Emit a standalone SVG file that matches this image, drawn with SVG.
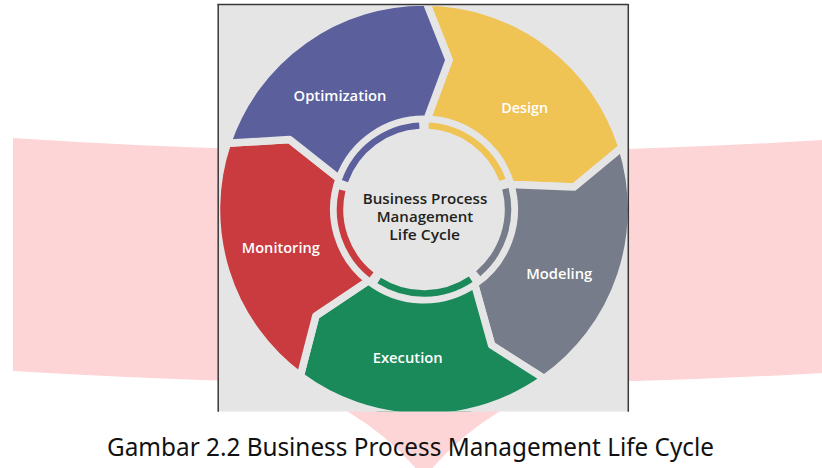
<svg xmlns="http://www.w3.org/2000/svg" xmlns:xlink="http://www.w3.org/1999/xlink" width="822" height="468" viewBox="0 0 822 468">
  <style>
    .seg { stroke: #e5e5e5; stroke-width: 7.5; stroke-linejoin: round; }
    .lbl { font-family: "Open Sans", "Noto Sans", sans-serif; font-weight: 600; font-size: 15px; fill: #ffffff; text-anchor: middle; }
    .ctr { font-family: "Open Sans", "Noto Sans", sans-serif; font-weight: 600; font-size: 14.5px; fill: #231f20; text-anchor: middle; }
    .ring { fill: none; stroke-width: 6.5; }
    .cap { font-family: "Noto Sans", "Open Sans", sans-serif; font-size: 25px; fill: #111111; }
    .frame { stroke: #383838; stroke-width: 1.5; }
  </style>
  <defs>
    <path id="seg" d="M2.17,-207.49 A207.5,207.5 0 0 1 198.00,-62.05 L149.93,-22.41 L86.71,-25.03 A90.25,90.25 0 0 0 2.99,-90.20 L25.02,-149.52 Z"/>
    <clipPath id="boxclip">
      <rect x="219" y="5" width="409" height="406.5"/>
    </clipPath>
  </defs>

  <rect width="822" height="468" fill="#ffffff"/>

  <g id="pink-banner" fill="#fdd5d7">
    <path d="M13,138 Q420,165 822,140 L822,373 Q420,396 13,371 Z"/>
    <path d="M330,395 L348,411.7 Q392,438 424,478 Q456,438 499,411.7 L515,395 Z"/>
  </g>

  <g id="figure">
    <rect x="218" y="4" width="410" height="407.5" fill="#e5e5e5"/>
    <g clip-path="url(#boxclip)">
      <g id="design"><use xlink:href="#seg" class="seg" fill="#efc354" transform="translate(424,209.5) rotate(0)"/></g>
      <g id="modeling"><use xlink:href="#seg" class="seg" fill="#767c89" transform="translate(424,209.5) rotate(72)"/></g>
      <g id="execution"><use xlink:href="#seg" class="seg" fill="#1b8a5a" transform="translate(424,209.5) rotate(144)"/></g>
      <g id="monitoring"><use xlink:href="#seg" class="seg" fill="#c93b3f" transform="translate(424,209.5) rotate(216)"/></g>
      <g id="optimization"><use xlink:href="#seg" class="seg" fill="#5b609d" transform="translate(424,209.5) rotate(288)"/></g>
    </g>

    <g id="connectors">
      <path class="ring" stroke="#efc354" d="M428.69,125.63 A84,84 0 0 1 502.58,179.81"/>
      <path class="ring" stroke="#767c89" d="M505.40,188.75 A84,84 0 0 1 478.22,273.66"/>
      <path class="ring" stroke="#1b8a5a" d="M470.73,279.30 A84,84 0 0 1 379.11,280.50"/>
      <path class="ring" stroke="#c93b3f" d="M371.48,275.06 A84,84 0 0 1 342.25,190.18"/>
      <path class="ring" stroke="#5b609d" d="M344.92,181.18 A84,84 0 0 1 419.31,125.63"/>
    </g>

    <g id="labels">
      <text class="lbl" x="340" y="100.5" textLength="93" lengthAdjust="spacingAndGlyphs">Optimization</text>
      <text class="lbl" x="524.7" y="113.3" textLength="47" lengthAdjust="spacingAndGlyphs">Design</text>
      <text class="lbl" x="559.2" y="279" textLength="66" lengthAdjust="spacingAndGlyphs">Modeling</text>
      <text class="lbl" x="407.7" y="362.7" textLength="70" lengthAdjust="spacingAndGlyphs">Execution</text>
      <text class="lbl" x="280.8" y="252.7" textLength="78" lengthAdjust="spacingAndGlyphs">Monitoring</text>
    </g>

    <g id="center">
      <text class="ctr" x="425" y="204" textLength="124.6" lengthAdjust="spacingAndGlyphs">Business Process</text>
      <text class="ctr" x="425" y="222" textLength="96.6" lengthAdjust="spacingAndGlyphs">Management</text>
      <text class="ctr" x="424.7" y="240" textLength="70.7" lengthAdjust="spacingAndGlyphs">Life Cycle</text>
    </g>

    <line class="frame" x1="217.5" y1="4.5" x2="628.5" y2="4.5"/>
    <line class="frame" x1="218.2" y1="4" x2="218.2" y2="411.7"/>
    <line class="frame" x1="628.3" y1="4" x2="628.3" y2="411.7"/>
  </g>

  <text id="caption" class="cap" x="107" y="456" textLength="607" lengthAdjust="spacingAndGlyphs">Gambar 2.2 Business Process Management Life Cycle</text>
</svg>
